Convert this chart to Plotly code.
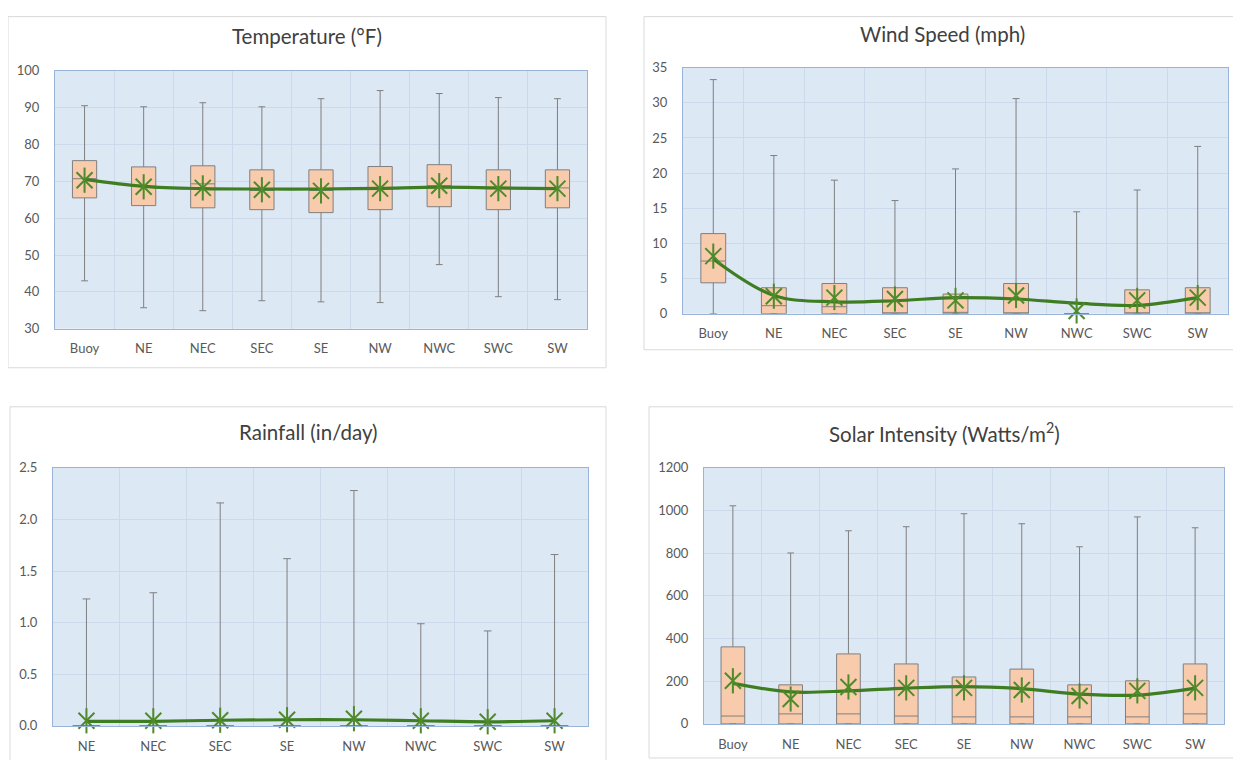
import plotly.graph_objects as go

# ---------------- data ----------------
cats9 = ["Buoy", "NE", "NEC", "SEC", "SE", "NW", "NWC", "SWC", "SW"]
cats8 = ["NE", "NEC", "SEC", "SE", "NW", "NWC", "SWC", "SW"]

temp_upper = [90.5, 90.2, 91.3, 90.2, 92.4, 94.6, 93.8, 92.7, 92.4]
temp_q3 = [75.6, 73.9, 74.2, 73.1, 73.1, 74.0, 74.5, 73.1, 73.1]
temp_median = [70.7, 68.7, 69.3, 67.5, 67.5, 68.2, 68.8, 68.0, 68.2]
temp_q1 = [65.5, 63.4, 62.8, 62.3, 61.5, 62.3, 63.1, 62.3, 62.8]
temp_lower = [43.0, 35.7, 34.9, 37.6, 37.3, 37.1, 47.4, 38.7, 37.9]
temp_mean = [70.3, 68.5, 68.2, 67.7, 67.4, 68.0, 68.8, 68.0, 68.0]
temp_line = [70.5, 68.6, 68.0, 67.9, 67.9, 68.1, 68.4, 68.2, 68.0]

wind_upper = [33.3, 22.5, 19.0, 16.1, 20.6, 30.6, 14.5, 17.6, 23.8]
wind_q3 = [11.4, 3.7, 4.3, 3.7, 2.8, 4.3, 0.0, 3.4, 3.7]
wind_median = [7.5, 1.15, 1.0, 0.0, 0.2, 0.0, 0.0, 0.0, 0.0]
wind_q1 = [4.4, 0.0, 0.0, 0.0, 0.0, 0.0, 0.0, 0.0, 0.0]
wind_lower = [0.0, 0.0, 0.0, 0.0, 0.0, 0.0, 0.0, 0.0, 0.0]
wind_mean = [8.2, 2.5, 2.3, 2.1, 1.9, 2.6, 0.4, 1.9, 2.3]
wind_line = [7.8, 2.6, 1.7, 1.85, 2.3, 2.1, 1.5, 1.2, 2.3]

rain_upper = [1.23, 1.29, 2.16, 1.62, 2.28, 0.99, 0.92, 1.66]
rain_q3 = [0.0, 0.0, 0.0, 0.0, 0.0, 0.0, 0.0, 0.0]
rain_median = [0.0, 0.0, 0.0, 0.0, 0.0, 0.0, 0.0, 0.0]
rain_q1 = [0.0, 0.0, 0.0, 0.0, 0.0, 0.0, 0.0, 0.0]
rain_lower = [0.0, 0.0, 0.0, 0.0, 0.0, 0.0, 0.0, 0.0]
rain_mean = [0.05, 0.05, 0.055, 0.06, 0.07, 0.05, 0.04, 0.05]
rain_line = [0.045, 0.045, 0.055, 0.06, 0.06, 0.05, 0.04, 0.05]

solar_upper = [1022, 801, 905, 924, 985, 938, 830, 970, 919]
solar_q3 = [361, 183, 328, 281, 220, 257, 183, 202, 281]
solar_median = [37, 47, 47, 37, 33, 33, 33, 33, 47]
solar_q1 = [0, 0, 0, 0, 0, 0, 0, 0, 0]
solar_lower = [0, 0, 0, 0, 0, 0, 0, 0, 0]
solar_mean = [202, 117, 173, 169, 169, 159, 131, 155, 169]
solar_line = [190, 150, 155, 168, 175, 165, 140, 135, 168]

titles = ["Temperature (°F)", "Wind Speed (mph)", "Rainfall (in/day)",
          "Solar Intensity (Watts/m<sup>2</sup>)"]

# ---------------- style ----------------
# page places the figure at x=8 and (as photographed) y = B*(TOP + fy)
OFFX = 8
B = 0.9786
TOP = 15.7
W, H = 1233, 762
FONT = "Lato, Open Sans, sans-serif"
BOX_FILL = "#f8cbad"
BOX_LINE = "#7f7f7f"
GREEN_LINE = "#3e7d22"
GREEN_MARK = "#4f8a2b"
PLOT_BG = "#dde8f5"
GRID = "#cbd9ea"
BORDER = "#98b4d8"
TICK = "#595959"


def px(x):
    return (x - OFFX) / W


def py(y):
    fy = y / B - TOP
    return 1 - fy / H


panels = [
    dict(cats=cats9, up=temp_upper, q3=temp_q3, med=temp_median, q1=temp_q1,
         lo=temp_lower, mean=temp_mean, line=temp_line,
         area=(55, 587, 70, 328), card=(8, 606, 16, 367), title_y=35,
         yr=[30, 100], dt=10, fmt=""),
    dict(cats=cats9, up=wind_upper, q3=wind_q3, med=wind_median, q1=wind_q1,
         lo=wind_lower, mean=wind_mean, line=wind_line,
         area=(683, 1228, 67, 313), card=(644, 1240, 16, 349), title_y=33,
         yr=[0, 35], dt=5, fmt=""),
    dict(cats=cats8, up=rain_upper, q3=rain_q3, med=rain_median, q1=rain_q1,
         lo=rain_lower, mean=rain_mean, line=rain_line,
         area=(53, 588, 467, 725), card=(10, 606, 406, 775), title_y=431,
         yr=[0, 2.5], dt=0.5, fmt=".1f"),
    dict(cats=cats9, up=solar_upper, q3=solar_q3, med=solar_median, q1=solar_q1,
         lo=solar_lower, mean=solar_mean, line=solar_line,
         area=(704, 1224, 467, 723), card=(649, 1240, 406, 757), title_y=432,
         yr=[0, 1200], dt=200, fmt=""),
]

fig = go.Figure()
layout = dict(
    width=W, height=H, margin=dict(l=0, r=0, t=0, b=0),
    paper_bgcolor="white", plot_bgcolor=PLOT_BG, showlegend=False,
    font=dict(family=FONT, color=TICK, size=13),
    shapes=[], annotations=[],
)

for i, p in enumerate(panels):
    n = i + 1
    xa = "x" if n == 1 else f"x{n}"
    ya = "y" if n == 1 else f"y{n}"
    xkey = "xaxis" if n == 1 else f"xaxis{n}"
    ykey = "yaxis" if n == 1 else f"yaxis{n}"
    x0, x1, y0, y1 = p["area"]

    fig.add_trace(go.Box(
        x=p["cats"], q1=p["q1"], median=p["med"], q3=p["q3"],
        lowerfence=p["lo"], upperfence=p["up"],
        fillcolor=BOX_FILL, line=dict(color=BOX_LINE, width=1),
        whiskerwidth=0.28, width=0.41, boxpoints=False,
        hoverinfo="skip", xaxis=xa, yaxis=ya,
    ))
    fig.add_trace(go.Scatter(
        x=p["cats"], y=p["line"], mode="lines",
        line=dict(color=GREEN_LINE, width=3.2, shape="spline", smoothing=1.0),
        hoverinfo="skip", xaxis=xa, yaxis=ya,
    ))
    for sym, sz in [("x-thin-open", 16), ("line-ns-open", 18)]:
        fig.add_trace(go.Scatter(
            x=p["cats"], y=p["mean"], mode="markers",
            marker=dict(symbol=sym, size=sz, color=GREEN_MARK,
                        line=dict(color=GREEN_MARK, width=2)),
            cliponaxis=False, hoverinfo="skip", xaxis=xa, yaxis=ya,
        ))

    layout[xkey] = dict(
        domain=[px(x0), px(x1)], anchor=ya, type="category",
        range=[-0.5, len(p["cats"]) - 0.5], tickson="boundaries",
        showgrid=True, gridcolor=GRID, gridwidth=1,
        showline=True, linecolor=BORDER, linewidth=1, mirror=True,
        ticks="", ticklabelstandoff=8, tickfont=dict(size=13, color=TICK),
        fixedrange=True,
    )
    layout[ykey] = dict(
        domain=[py(y1), py(y0)], anchor=xa, range=p["yr"], dtick=p["dt"],
        tick0=p["yr"][0], tickformat=p["fmt"],
        showgrid=True, gridcolor=GRID, gridwidth=1, zeroline=False,
        showline=True, linecolor=BORDER, linewidth=1, mirror=True,
        ticks="", ticklabelstandoff=12, tickfont=dict(size=13, color=TICK),
        fixedrange=True,
    )

    cx0, cx1, cy0, cy1 = p["card"]
    layout["shapes"].append(dict(
        type="rect", xref="paper", yref="paper",
        x0=px(cx0), x1=px(cx1), y0=py(cy1), y1=py(cy0),
        line=dict(color="#d9d9d9", width=1), fillcolor="rgba(0,0,0,0)",
        layer="below",
    ))
    layout["annotations"].append(dict(
        text=titles[i], xref="paper", yref="paper",
        x=px((cx0 + cx1) / 2), y=py(p["title_y"]),
        xanchor="center", yanchor="middle", showarrow=False,
        font=dict(family=FONT, size=20.5, color="#404040"),
    ))

fig.update_layout(**layout)
fig.write_html("out.html")
